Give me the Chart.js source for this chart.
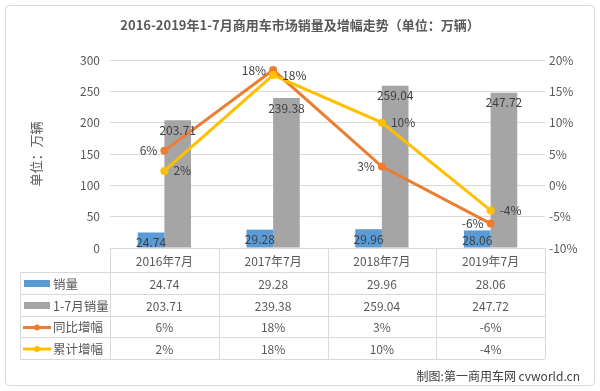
<!DOCTYPE html>
<html>
<head>
<meta charset="utf-8">
<script src="https://cdn.jsdelivr.net/npm/chart.js"></script>
<style>
  html, body { margin: 0; padding: 0; background: #fff; }
  #wrap { width: 600px; height: 391px; }
</style>
</head>
<body>
<div id="wrap"><canvas id="myChart" width="600" height="391"></canvas></div>
<script>
const categories = ["2016年7月", "2017年7月", "2018年7月", "2019年7月"]
const monthSales = [24.74, 29.28, 29.96, 28.06]
const ytdSales = [203.71, 239.38, 259.04, 247.72]
const yoyGrowth = [5.5, 18.4, 3.0, -6.1]
const ytdGrowth = [2.3, 17.6, 10.0, -4.0]
const leftTicks = [0, 50, 100, 150, 200, 250, 300]
const rightTicks = [-10, -5, 0, 5, 10, 15, 20]

const FONT = '"Noto Sans CJK SC", "Noto Sans", sans-serif'
const TEXT = "#595959"
const LINE = "#d9d9d9"
const colors = {
  blue: "#5b9bd5",
  gray: "#a5a5a5",
  orange: "#ed7d31",
  yellow: "#ffc000",
}

// value labels on the marks
const labelPlugin = {
  id: "labels",
  afterDatasetsDraw(chart) {
    const ctx = chart.ctx
    ctx.save()
    ctx.font = "12px " + FONT
    ctx.fillStyle = "#404040"
    ctx.textBaseline = "middle"
    chart.data.datasets.forEach((ds, i) => {
      const meta = chart.getDatasetMeta(i)
      meta.data.forEach((el, j) => {
        const v = ds.data[j]
        if (ds.type === "bar") {
          ctx.textAlign = "center"
          ctx.fillText(v.toFixed(2), el.x, el.y + 10)
        } else if (ds.labelSide === "left") {
          ctx.textAlign = "right"
          ctx.fillText(Math.round(v) + "%", el.x - 7, el.y)
        } else {
          ctx.textAlign = "left"
          ctx.fillText(Math.round(v) + "%", el.x + 9, el.y)
        }
      })
    })
    ctx.restore()
  },
}

// data table under the plot + frame + credit
const tablePlugin = {
  id: "table",
  beforeDraw(chart) {
    const ctx = chart.ctx
    ctx.save()
    ctx.strokeStyle = LINE
    ctx.lineWidth = 1
    ctx.beginPath()
    ctx.roundRect(5.5, 5.5, 589, 380, 4)
    ctx.stroke()
    ctx.restore()
  },
  afterDraw(chart) {
    const ctx = chart.ctx
    const xs = chart.scales.x
    const area = chart.chartArea
    const top = area.bottom
    const rows = [top, 272, 294, 316, 337, 359]
    const labelLeft = 20
    const colW = (area.right - area.left) / categories.length
    ctx.save()
    ctx.strokeStyle = LINE
    ctx.lineWidth = 1
    ctx.beginPath()
    ctx.moveTo(area.left, top + 0.5)
    ctx.lineTo(area.right, top + 0.5)
    for (let r = 1; r < rows.length; r++) {
      ctx.moveTo(labelLeft, rows[r] + 0.5)
      ctx.lineTo(area.right, rows[r] + 0.5)
    }
    ctx.moveTo(labelLeft + 0.5, rows[1])
    ctx.lineTo(labelLeft + 0.5, rows[5])
    for (let c = 0; c <= categories.length; c++) {
      const x = Math.round(area.left + c * colW) + 0.5
      ctx.moveTo(x, top)
      ctx.lineTo(x, rows[5])
    }
    ctx.stroke()

    ctx.font = "12px " + FONT
    ctx.fillStyle = TEXT
    ctx.textBaseline = "middle"
    ctx.textAlign = "center"
    const mid = (r) => (rows[r] + rows[r + 1]) / 2 + 1
    categories.forEach((c, i) => {
      const cx = xs.getPixelForValue(i)
      ctx.fillText(c, cx, mid(0))
      ctx.fillText(monthSales[i].toFixed(2), cx, mid(1))
      ctx.fillText(ytdSales[i].toFixed(2), cx, mid(2))
      ctx.fillText(Math.round(yoyGrowth[i]) + "%", cx, mid(3))
      ctx.fillText(Math.round(ytdGrowth[i]) + "%", cx, mid(4))
    })

    // legend keys, one per dataset, in array order
    chart.data.datasets.forEach((d, r) => {
      const y = mid(r + 1)
      if (d.type === "bar") {
        ctx.fillStyle = d.backgroundColor
        ctx.fillRect(24, y - 4, 26, 7)
      } else {
        ctx.strokeStyle = d.borderColor
        ctx.lineWidth = 3
        ctx.beginPath()
        ctx.moveTo(23, y)
        ctx.lineTo(51, y)
        ctx.stroke()
        ctx.fillStyle = d.borderColor
        ctx.beginPath()
        ctx.arc(37, y, 3, 0, Math.PI * 2)
        ctx.fill()
      }
      ctx.fillStyle = TEXT
      ctx.textAlign = "left"
      ctx.font = "12.5px " + FONT
      ctx.fillText(d.label, 53, y)
    })

    ctx.font = "12px " + FONT
    ctx.fillStyle = "#404040"
    ctx.textAlign = "right"
    ctx.fillText("制图:第一商用车网 cvworld.cn", 580, 376)
    ctx.restore()
  },
}

new Chart(document.getElementById("myChart"), {
  data: {
    labels: categories,
    datasets: [
      {
        type: "bar",
        label: "销量",
        data: monthSales,
        yAxisID: "y",
        backgroundColor: colors.blue,
        order: 2,
      },
      {
        type: "bar",
        label: "1-7月销量",
        data: ytdSales,
        yAxisID: "y",
        backgroundColor: colors.gray,
        order: 3,
      },
      {
        type: "line",
        label: "同比增幅",
        data: yoyGrowth,
        yAxisID: "y1",
        borderColor: colors.orange,
        backgroundColor: colors.orange,
        borderWidth: 3,
        pointRadius: 4,
        pointBorderWidth: 0,
        labelSide: "left",
        order: 1,
      },
      {
        type: "line",
        label: "累计增幅",
        data: ytdGrowth,
        yAxisID: "y1",
        borderColor: colors.yellow,
        backgroundColor: colors.yellow,
        borderWidth: 3,
        pointRadius: 4,
        pointBorderWidth: 0,
        labelSide: "right",
        order: 0,
      },
    ],
  },
  plugins: [labelPlugin, tablePlugin],
  options: {
    responsive: false,
    animation: false,
    datasets: {
      bar: { categoryPercentage: 0.49, barPercentage: 1 },
    },
    layout: { padding: { top: 10, left: 10, right: 10, bottom: 32 } },
    plugins: {
      legend: { display: false },
      tooltip: { enabled: false },
      title: {
        display: true,
        text: "2016-2019年1-7月商用车市场销量及增幅走势（单位：万辆）",
        color: TEXT,
        font: { family: FONT, size: 13, weight: "bold" },
        padding: { top: 7, bottom: 27.4 },
      },
    },
    scales: {
      x: {
        ticks: { display: false },
        grid: { display: false },
        border: { display: false },
        afterFit: (s) => { s.height = 111 },
      },
      y: {
        position: "left",
        min: leftTicks[0],
        max: leftTicks[leftTicks.length - 1],
        afterBuildTicks: (s) => { s.ticks = leftTicks.map((v) => ({ value: v })) },
        afterFit: (s) => { s.width = 100 },
        ticks: { color: TEXT, font: { family: FONT, size: 12 }, padding: 10 },
        grid: { color: LINE, drawTicks: false },
        border: { display: false },
        title: {
          display: true,
          text: "单位：万辆",
          color: TEXT,
          font: { family: FONT, size: 13 },
          padding: { top: 18, bottom: 0 },
        },
      },
      y1: {
        position: "right",
        min: rightTicks[0],
        max: rightTicks[rightTicks.length - 1],
        afterBuildTicks: (s) => { s.ticks = rightTicks.map((v) => ({ value: v })) },
        afterFit: (s) => { s.width = 45 },
        ticks: {
          color: TEXT,
          font: { family: FONT, size: 12 },
          padding: 4,
          callback: (v) => v + "%",
        },
        grid: { display: false, drawTicks: false },
        border: { display: false },
      },
    },
  },
})
</script>
</body>
</html>
